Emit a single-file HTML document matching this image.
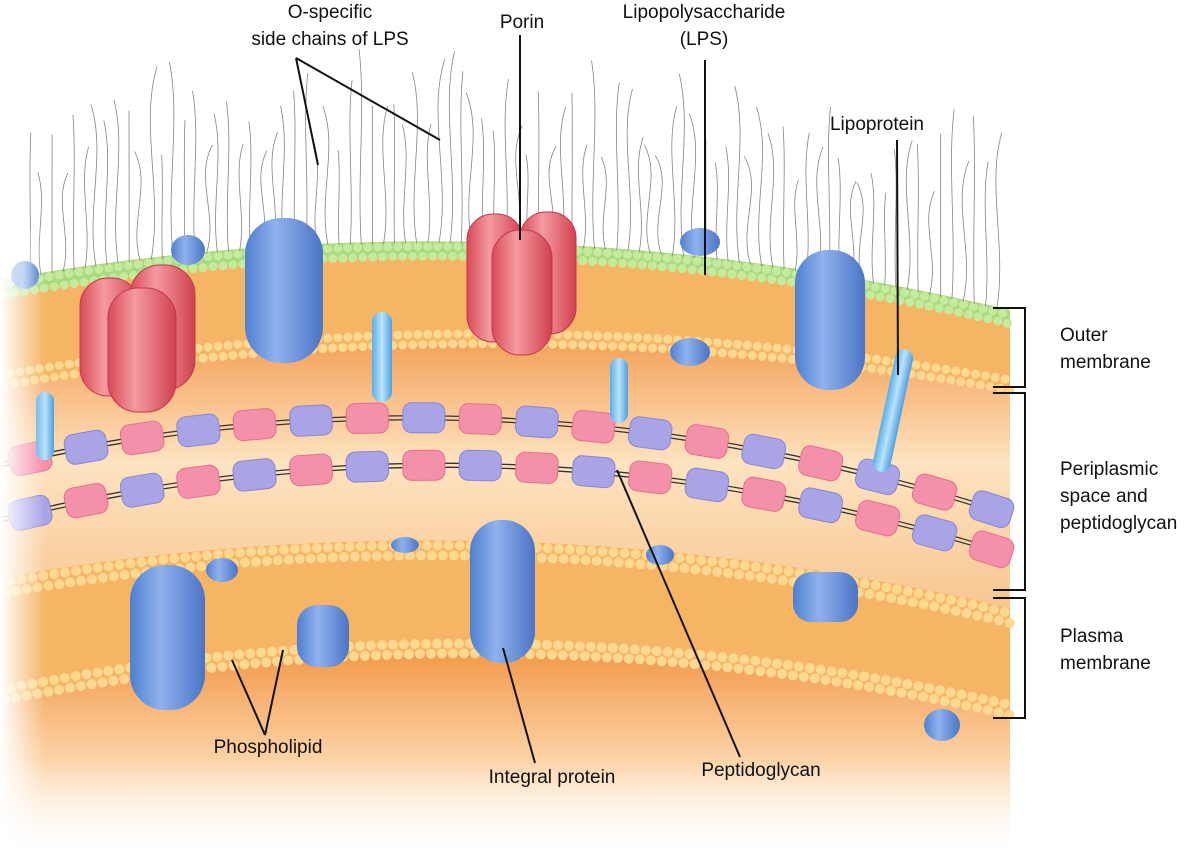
<!DOCTYPE html>
<html><head><meta charset="utf-8"><style>
html,body{margin:0;padding:0;background:#fff;}
svg{display:block;font-family:"Liberation Sans",Arial,sans-serif;}
</style></head><body>
<svg id="s" width="1203" height="861" viewBox="0 0 1203 861" xmlns="http://www.w3.org/2000/svg">
<defs>
<linearGradient id="peri" x1="0" y1="0" x2="0" y2="1">
<stop offset="0" stop-color="#f4a25a"/><stop offset="0.45" stop-color="#fde3c0"/><stop offset="1" stop-color="#f8c690"/>
</linearGradient>
<linearGradient id="cyto" x1="0" y1="0" x2="0" y2="1">
<stop offset="0" stop-color="#f39a4c"/><stop offset="0.5" stop-color="#fbd2a4"/><stop offset="1" stop-color="#ffffff"/>
</linearGradient>
<linearGradient id="leftfade" x1="0" y1="0" x2="1" y2="0">
<stop offset="0" stop-color="#fff" stop-opacity="1"/><stop offset="1" stop-color="#fff" stop-opacity="0"/>
</linearGradient>
<linearGradient id="botfade" x1="0" y1="0" x2="0" y2="1">
<stop offset="0" stop-color="#fff" stop-opacity="0"/><stop offset="1" stop-color="#fff" stop-opacity="1"/>
</linearGradient>
<linearGradient id="blue" x1="0" y1="0" x2="1" y2="0">
<stop offset="0" stop-color="#4f7fcf"/><stop offset="0.4" stop-color="#8fb2ee"/><stop offset="1" stop-color="#4a74c4"/>
</linearGradient>
<linearGradient id="red" x1="0" y1="0" x2="1" y2="0">
<stop offset="0" stop-color="#d84a58"/><stop offset="0.4" stop-color="#f59aa0"/><stop offset="1" stop-color="#d0404f"/>
</linearGradient>
<linearGradient id="lblue" x1="0" y1="0" x2="1" y2="0">
<stop offset="0" stop-color="#5aaee8"/><stop offset="0.5" stop-color="#b9e3fb"/><stop offset="1" stop-color="#4f9fe0"/>
</linearGradient>
</defs>
<path d="M0 700 Q 500 600 1010 715 L1010 861 L0 861 Z" fill="url(#cyto)"/>
<path d="M0 380 Q 500 300 1010 390 L1010 610 Q 500 500 0 580 Z" fill="url(#peri)"/>
<path d="M0 578 Q 500 490 1010 608 L1010 715 Q 500 600 0 700 Z" fill="#f6b565"/>
<g fill="none" stroke="#fcd890" stroke-linecap="round" stroke-dasharray="0 11" stroke-width="10">
<path d="M0 583 Q 500 495 1010 613"/><path d="M5 593 Q 505 505 1010 623"/>
<path d="M0 690 Q 500 590 1010 705"/><path d="M5 700 Q 505 600 1010 715"/>
</g>
<path d="M0 280 Q 500 190 1010 310 L1010 390 Q 500 300 0 390 Z" fill="#f6b565"/>
<path d="M0 280 Q 500 190 1010 310 L1010 325 Q 500 205 0 295 Z" fill="#a8d97f"/>
<g fill="none" stroke-linecap="round" stroke-dasharray="0 10" stroke-width="9">
<path d="M0 285 Q 500 195 1010 315" stroke="#c4ea9c"/>
<path d="M5 295 Q 505 205 1010 324" stroke="#c4ea9c"/>
<path d="M0 375 Q 500 290 1010 380" stroke="#fcd890"/>
<path d="M5 385 Q 505 300 1010 390" stroke="#fcd890"/>
</g>
<g id="hairs" fill="none" stroke="#777" stroke-width="0.8" opacity="0.9"></g>
<g id="pg"></g>
<g fill="url(#blue)">
<ellipse cx="188" cy="250" rx="17" ry="15"/><ellipse cx="700" cy="242" rx="20" ry="14"/>
<ellipse cx="690" cy="352" rx="20" ry="14"/><ellipse cx="405" cy="545" rx="14" ry="8"/>
<ellipse cx="660" cy="555" rx="14" ry="10"/><ellipse cx="222" cy="570" rx="16" ry="12"/>
<ellipse cx="942" cy="725" rx="18" ry="16"/><ellipse cx="25" cy="275" rx="14" ry="14"/>
</g>
<g fill="url(#lblue)">
<rect x="372" y="312" width="20" height="90" rx="10"/>
<rect x="610" y="358" width="18" height="65" rx="9"/>
<rect x="36" y="392" width="18" height="68" rx="9"/>
<rect x="884" y="348" width="18" height="125" rx="9" transform="rotate(12 893 410)"/>
</g>
<g fill="url(#blue)">
<rect x="245" y="218" width="78" height="145" rx="36"/>
<rect x="795" y="250" width="70" height="140" rx="33"/>
<rect x="130" y="565" width="75" height="145" rx="35"/>
<rect x="470" y="520" width="65" height="143" rx="31"/>
<rect x="297" y="605" width="52" height="62" rx="20"/>
<rect x="793" y="572" width="65" height="50" rx="18"/>
</g>
<g fill="url(#red)" stroke="#c03848" stroke-width="1">
<rect x="80" y="278" width="60" height="118" rx="28"/>
<rect x="130" y="265" width="65" height="125" rx="30"/>
<rect x="108" y="288" width="68" height="124" rx="30"/>
<rect x="467" y="214" width="56" height="128" rx="26"/>
<rect x="520" y="212" width="56" height="122" rx="26"/>
<rect x="492" y="230" width="60" height="125" rx="28"/>
</g>
<rect x="0" y="230" width="45" height="631" fill="url(#leftfade)"/>
<rect x="0" y="760" width="1010" height="101" fill="url(#botfade)"/>
<g stroke="#111" stroke-width="2" fill="none">
<path d="M296 58 L318 165 M296 58 L440 140"/>
<path d="M520 35 L520 240"/>
<path d="M705 60 L705 275"/>
<path d="M897 140 L898 375"/>
<path d="M265 735 L232 660 M265 735 L283 650"/>
<path d="M535 763 L503 648"/>
<path d="M740 757 L617 470"/>
<path d="M993 308 H1025 V387 H993"/>
<path d="M993 393 H1025 V590 H993"/>
<path d="M993 598 H1025 V718 H993"/>
</g>
<g font-size="19" fill="#111">
<text x="330" y="18" text-anchor="middle">O-specific</text>
<text x="330" y="45" text-anchor="middle">side chains of LPS</text>
<text x="522" y="28" text-anchor="middle">Porin</text>
<text x="704" y="18" text-anchor="middle">Lipopolysaccharide</text>
<text x="704" y="45" text-anchor="middle">(LPS)</text>
<text x="877" y="130" text-anchor="middle">Lipoprotein</text>
<text x="1060" y="341">Outer</text><text x="1060" y="368">membrane</text>
<text x="1060" y="475">Periplasmic</text><text x="1060" y="502">space and</text><text x="1060" y="529">peptidoglycan</text>
<text x="1060" y="642">Plasma</text><text x="1060" y="669">membrane</text>
<text x="268" y="753" text-anchor="middle">Phospholipid</text>
<text x="552" y="783" text-anchor="middle">Integral protein</text>
<text x="761" y="776" text-anchor="middle">Peptidoglycan</text>
</g>
</svg>
<script>
(function(){
var NS="http://www.w3.org/2000/svg";
function qb(t,x0,y0,cx,cy,x1,y1){return[(1-t)*(1-t)*x0+2*t*(1-t)*cx+t*t*x1,(1-t)*(1-t)*y0+2*t*(1-t)*cy+t*t*y1];}
var h=document.getElementById("hairs"),seed=7;
function r(){seed=(seed*9301+49297)%233280;return seed/233280;}
for(var t=0.03;t<0.99;t+=0.011){
 var p=qb(t,0,280,500,190,1010,310);
 var len=90+r()*110, x=p[0], y=p[1]+2, a=(r()-0.5)*25;
 var d="M"+x.toFixed(1)+" "+y.toFixed(1)+" C"+(x+a).toFixed(1)+" "+(y-len*0.35).toFixed(1)+" "+(x-a).toFixed(1)+" "+(y-len*0.7).toFixed(1)+" "+(x+a*0.5).toFixed(1)+" "+(y-len).toFixed(1);
 var e=document.createElementNS(NS,"path");e.setAttribute("d",d);h.appendChild(e);
}
var g=document.getElementById("pg");
var rows=[[0,465,500,350,1010,515,0],[0,520,500,395,1010,555,1]];
rows.forEach(function(R){
 for(var k=0;k<2;k++){
  var l=document.createElementNS(NS,"path");
  l.setAttribute("d","M"+R[0]+" "+(R[1]+k*4-2)+" Q"+R[2]+" "+(R[3]+k*4-2)+" "+R[4]+" "+(R[5]+k*4-2));
  l.setAttribute("stroke","#333");l.setAttribute("stroke-width","1.3");l.setAttribute("fill","none");g.appendChild(l);
 }
 var i=R[6];
 for(var t=0.03;t<0.99;t+=0.056){
  var p=qb(t,R[0],R[1],R[2],R[3],R[4],R[5]);
  var p2=qb(t+0.01,R[0],R[1],R[2],R[3],R[4],R[5]);
  var ang=Math.atan2(p2[1]-p[1],p2[0]-p[0])*180/Math.PI;
  var b=document.createElementNS(NS,"rect");
  b.setAttribute("x",-21);b.setAttribute("y",-15);b.setAttribute("width",42);b.setAttribute("height",30);b.setAttribute("rx",9);
  b.setAttribute("fill",i%2?"#a8a4e6":"#f590aa");b.setAttribute("stroke",i%2?"#8a84d4":"#e27090");
  b.setAttribute("transform","translate("+p[0].toFixed(1)+","+p[1].toFixed(1)+") rotate("+ang.toFixed(1)+")");
  g.appendChild(b);i++;
 }
});
})();
</script>
</body></html>
